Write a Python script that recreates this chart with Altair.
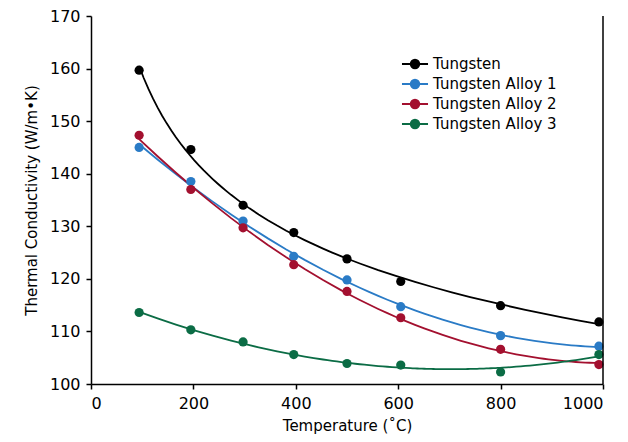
import altair as alt
import pandas as pd

temps = [94, 195, 297, 396, 500, 605, 800, 992]
series_names = ["Tungsten", "Tungsten Alloy 1", "Tungsten Alloy 2", "Tungsten Alloy 3"]
tungsten = [159.7, 144.6, 134.0, 128.8, 123.8, 119.5, 114.9, 111.8]
alloy1 = [145.0, 138.5, 131.0, 124.3, 119.8, 114.7, 109.2, 107.2]
alloy2 = [147.3, 137.0, 129.7, 122.7, 117.6, 112.6, 106.6, 103.7]
alloy3 = [113.6, 110.3, 108.0, 105.6, 103.9, 103.6, 102.3, 105.6]
colors = ["#000000", "#2a7bc6", "#a3102f", "#0b6c45"]

rows = []
for name, vals in zip(series_names, [tungsten, alloy1, alloy2, alloy3]):
    for t, v in zip(temps, vals):
        rows.append({"series": name, "temp": t, "k": v})
df = pd.DataFrame(rows)

FONT = "DejaVu Sans"

x_scale = alt.Scale(domain=[0, 1000], nice=False)
y_scale = alt.Scale(domain=[100, 170], nice=False, zero=False)
color_scale = alt.Scale(domain=series_names, range=colors)

sym_path = ("M-1.86,0L1.86,0M-0.6,0a0.6,0.6 0 1,0 1.2,0"
            "a0.6,0.6 0 1,0 -1.2,0Z")

legend = alt.Legend(
    title=None, orient="none", legendX=316, legendY=40,
    symbolType=sym_path, symbolSize=196, symbolStrokeWidth=2,
    symbolOpacity=1,
    labelFont=FONT, labelFontSize=15, labelColor="black",
    labelOffset=10, rowPadding=2, padding=0,
)
color_enc = alt.Color("series:N", scale=color_scale, legend=legend)

base = alt.Chart(df)

x_enc = alt.X("temp:Q", scale=x_scale,
              axis=alt.Axis(title="Temperature (˚C)", format="d",
                            values=[0, 200, 400, 600, 800, 1000]))
y_enc = alt.Y("k:Q", scale=y_scale,
              axis=alt.Axis(title="Thermal Conductivity (W/m•K)",
                            values=[100, 110, 120, 130, 140, 150, 160, 170]))

pow_fit = base.transform_filter(
    alt.datum.series == "Tungsten"
).transform_regression(
    "temp", "k", method="pow", groupby=["series"]
).mark_line(strokeWidth=1.8).encode(x=x_enc, y=y_enc, color=color_enc)

poly_fit = base.transform_filter(
    alt.datum.series != "Tungsten"
).transform_regression(
    "temp", "k", method="poly", order=2, groupby=["series"]
).mark_line(strokeWidth=1.8).encode(x=x_enc, y=y_enc, color=color_enc)

points = base.mark_point(filled=True, size=85, opacity=1).encode(
    x=x_enc, y=y_enc, color=color_enc,
)

right_rule = alt.Chart(pd.DataFrame({"x": [1000]})).mark_rule(
    color="black", strokeWidth=1.5
).encode(
    x=alt.X("x:Q", scale=x_scale), y=alt.value(0), y2=alt.value(368)
)

chart = alt.layer(pow_fit, poly_fit, points, right_rule).properties(
    width=512, height=368,
    autosize=alt.AutoSizeParams(type="none"),
    padding={"left": 83, "top": 8, "right": 17, "bottom": 50},
).configure_view(stroke=None).configure_axis(
    grid=False, domainColor="black", domainWidth=1.5,
    tickColor="black", tickWidth=1.5, tickSize=5,
    labelFont=FONT, labelFontSize=16, labelColor="black", labelPadding=6,
    titleFont=FONT, titleFontSize=15, titleColor="black", titleFontWeight="normal",
).configure_axisY(titlePadding=10).configure_axisX(titlePadding=7)

chart.save("out.html", embed_options={"renderer": "svg", "actions": False})
